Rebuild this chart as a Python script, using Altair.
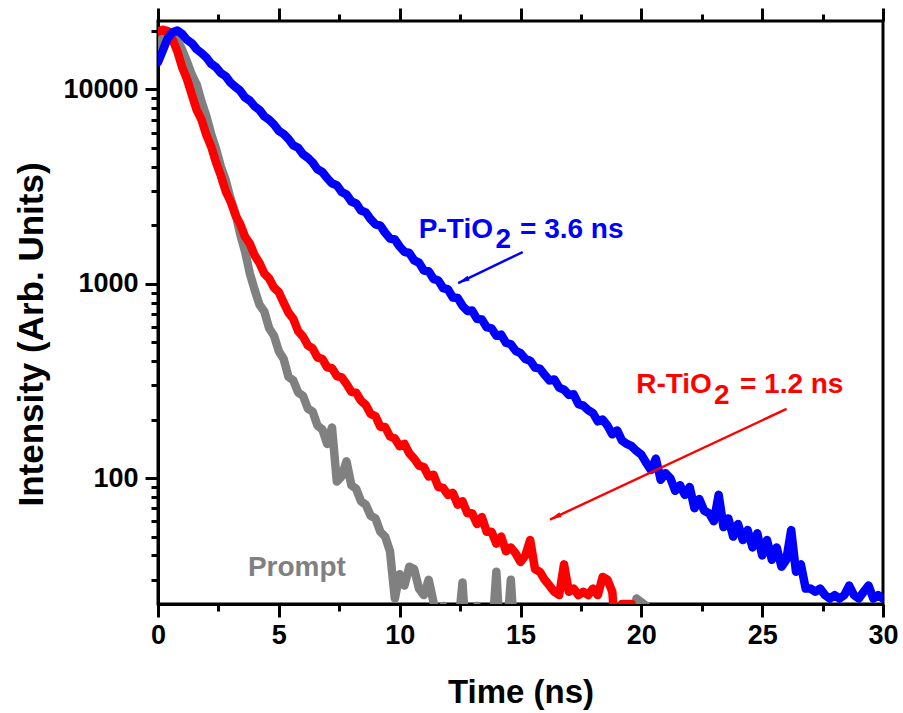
import altair as alt
import pandas as pd

# ---------------- data ----------------
STEP_NS = 0.2  # channel spacing of the listed decay curves (ns)

BLUE_P_TIO2 = [
    13800, 15900, 18300, 19700, 20100, 19300, 18000, 17300, 16100, 15400,
    14600, 13550, 13000, 12150, 11700, 10850, 10300, 9850, 9100, 8760,
    8180, 7850, 7270, 6980, 6600, 6120, 5900, 5560, 5150, 5010,
    4640, 4450, 4210, 3880, 3760, 3500, 3290, 3210, 2970, 2880,
    2650, 2590, 2380, 2330, 2150, 2020, 1990, 1830, 1710, 1690,
    1555, 1460, 1440, 1320, 1285, 1170, 1160, 1060, 1040, 950,
    935, 850, 845, 770, 725, 728, 660, 655, 598, 590,
    540, 548, 497, 488, 452, 440, 410, 402, 370, 366,
    340, 318, 322, 292, 285, 268, 270, 240, 236, 224,
    216, 196, 200, 186, 168, 176, 156, 150, 146, 138,
    132, 120, 110, 126, 98, 106, 100, 86, 92, 82,
    90, 70, 78, 68, 66, 60, 82, 56, 62, 50,
    58, 48, 54, 44, 52, 40, 48, 38, 44, 35,
    38, 54, 33, 36, 27, 27, 26, 27, 25, 24,
    25, 24, 25, 28, 25, 24, 26, 28, 24, 25,
    24,
]

RED_R_TIO2 = [
    19800, 20300, 19900, 18100, 15700, 13000, 11300, 9400, 7850, 6990,
    5830, 5080, 4220, 3600, 3000, 2660, 2260, 2030, 1750, 1610,
    1400, 1280, 1130, 1065, 955, 905, 800, 710, 660, 570,
    535, 482, 465, 418, 410, 372, 368, 335, 330, 305,
    278, 275, 250, 238, 214, 208, 184, 183, 164, 160,
    146, 150, 134, 126, 116, 114, 102, 104, 90, 89,
    82, 84, 73, 76, 66, 66, 58, 63, 53, 53,
    46, 50, 42, 44, 41, 37, 40, 48, 34, 33,
    30, 28, 26, 25, 36, 26, 27, 25, 26, 25,
    27, 25, 31, 30, 26, 12, 22.5, 22.5, 22.5, 12,
    10, 10, 10, 10,
]

GREY_PROMPT = [
    16400, 18700, 20000, 19400, 17900, 16000, 13900, 11900, 10600, 8650,
    7300, 5900, 4950, 4020, 3420, 2750, 2320, 1800, 1470, 1130,
    930, 780, 720, 590, 540, 450, 410, 332, 318, 276,
    265, 228, 220, 186, 178, 150, 182, 96, 102, 122,
    92, 88, 76, 73, 64, 62, 53, 50, 42, 24,
    32, 28, 35, 34, 27, 25, 30, 23, 18, 22,
    14, 12, 16, 29, 12, 14, 22, 12, 10, 14,
    33, 12, 14, 30, 12, 10, 10, 12, 10, 10,
    10, 10, 12, 10, 10, 10, 10, 12, 10, 10,
    10, 10, 10, 12, 10, 10, 10, 10, 14, 24,
    23, 22, 12, 10, 10, 10,
]

X_DOMAIN = [0, 30]
Y_DOMAIN = [22.5, 22500]
X_MAJOR = [0, 5, 10, 15, 20, 25, 30]
X_MINOR = [2.5, 7.5, 12.5, 17.5, 22.5, 27.5]
Y_MAJOR = [100, 1000, 10000]
Y_MINOR = [30, 40, 50, 60, 70, 80, 90,
           200, 300, 400, 500, 600, 700, 800, 900,
           2000, 3000, 4000, 5000, 6000, 7000, 8000, 9000,
           20000]

# annotation pieces: text, time, intensity, alignment, colour
LABEL_TEXT = ["P-TiO", "2", "= 3.6 ns", "R-TiO", "2", "= 1.2 ns", "Prompt"]
LABEL_T = [13.86, 14.29, 14.98, 22.92, 23.33, 24.08, 3.72]
LABEL_I = [1724, 1526, 1724, 275, 241.5, 275, 31.2]
LABEL_ALIGN = ["right", "center", "left", "right", "center", "left", "left"]
LABEL_COLOR = ["#0000FF", "#0000FF", "#0000FF", "#FF0000", "#FF0000", "#FF0000", "#808080"]

# arrows: start (t, I) -> end (t, I)
ARROW_T1 = [15.09, 26.01]
ARROW_I1 = [1456, 227]
ARROW_T2 = [12.42, 16.22]
ARROW_I2 = [1008, 61.2]
ARROW_COLOR = ["#0000FF", "#FF0000"]

FONT = "Liberation Sans"


def series_frame(values):
    return pd.DataFrame({
        "t": [round(i * STEP_NS, 1) for i in range(len(values))],
        "intensity": values,
    })


xs = alt.Scale(domain=X_DOMAIN, nice=False, zero=False)
ys = alt.Scale(type="log", domain=Y_DOMAIN, nice=False)


def ticks_axis(values, orient, size, **extra):
    opts = dict(values=values, orient=orient, tickSize=size, tickWidth=3,
                tickColor="black", ticks=True, grid=False, labels=False, domain=False,
                title=None)
    opts.update(extra)
    return alt.Axis(**opts)


LABEL_STYLE = dict(labels=True, labelFont=FONT, labelFontWeight="bold", labelFontSize=27,
                   labelColor="black", labelFlush=False, format="d",
                   domain=True, domainWidth=3, domainColor="black")

x_bottom_major = ticks_axis(
    X_MAJOR, "bottom", 13, labelPadding=5, **LABEL_STYLE,
    title="Time (ns)", titleFont=FONT, titleFontWeight="bold", titleFontSize=33,
    titleColor="black", titleY=98, titleBaseline="alphabetic",
)
x_bottom_minor = ticks_axis(X_MINOR, "bottom", 7)
x_top_major = ticks_axis(X_MAJOR, "top", 13)
x_top_minor = ticks_axis(X_MINOR, "top", 7)

y_left_major = ticks_axis(
    Y_MAJOR, "left", 13, labelPadding=7, **LABEL_STYLE,
    title="Intensity (Arb. Units)", titleFont=FONT, titleFontWeight="bold",
    titleFontSize=35, titleColor="black", titleAngle=270, titleBaseline="alphabetic",
    titleAlign="center", titleX=-116, titleY=313,
)
y_left_minor = ticks_axis(Y_MINOR, "left", 7)


def line_layer(values, color, x_axis=None, y_axis=None, opacity=1.0):
    return alt.Chart(series_frame(values)).mark_line(
        color=color, strokeWidth=8.5, clip=True, strokeJoin="round", strokeCap="round",
        opacity=opacity,
    ).encode(
        x=alt.X("t:Q", scale=xs, axis=x_axis),
        y=alt.Y("intensity:Q", scale=ys, axis=y_axis),
    )


grey = line_layer(GREY_PROMPT, "#808080", x_bottom_major, y_left_major)
red = line_layer(RED_R_TIO2, "#FF0000", x_bottom_minor, y_left_minor)
blue = line_layer(BLUE_P_TIO2, "#0000FF", x_top_major, None)
top_minor = line_layer(GREY_PROMPT, "#808080", x_top_minor, None, opacity=0)

arrows_df = pd.DataFrame({"t1": ARROW_T1, "i1": ARROW_I1, "t2": ARROW_T2,
                          "i2": ARROW_I2, "color": ARROW_COLOR})
arrow_lines = alt.Chart(arrows_df).mark_rule(strokeWidth=2.4).encode(
    x=alt.X("t1:Q", scale=xs, axis=None), y=alt.Y("i1:Q", scale=ys, axis=None),
    x2="t2:Q", y2="i2:Q", color=alt.Color("color:N", scale=None),
)
arrow_heads = alt.Chart(arrows_df).mark_point(
    shape="M0,0L0.5,2.2L-0.5,2.2Z", filled=True, size=110, angle=245, opacity=1,
    strokeWidth=0,
).encode(
    x=alt.X("t2:Q", scale=xs, axis=None), y=alt.Y("i2:Q", scale=ys, axis=None),
    color=alt.Color("color:N", scale=None),
)

labels_df = pd.DataFrame({"text": LABEL_TEXT, "t": LABEL_T, "i": LABEL_I,
                          "align": LABEL_ALIGN, "color": LABEL_COLOR})
label_layers = []
for al in ["left", "center", "right"]:
    label_layers.append(
        alt.Chart(labels_df[labels_df["align"] == al]).mark_text(
            font=FONT, fontSize=28, fontWeight="bold", align=al, baseline="alphabetic",
        ).encode(
            x=alt.X("t:Q", scale=xs, axis=None), y=alt.Y("i:Q", scale=ys, axis=None),
            text="text:N", color=alt.Color("color:N", scale=None),
        )
    )

chart = alt.layer(
    grey, red, blue, arrow_lines, arrow_heads, *label_layers, top_minor
).resolve_axis(x="independent", y="independent").properties(
    width=725, height=583,
    autosize=alt.AutoSizeParams(type="none"),
    padding={"left": 158, "top": 21, "right": 20, "bottom": 109},
    background="white",
).configure_view(stroke="black", strokeWidth=3)

chart.save("out.html", embed_options={"renderer": "svg", "actions": False})
